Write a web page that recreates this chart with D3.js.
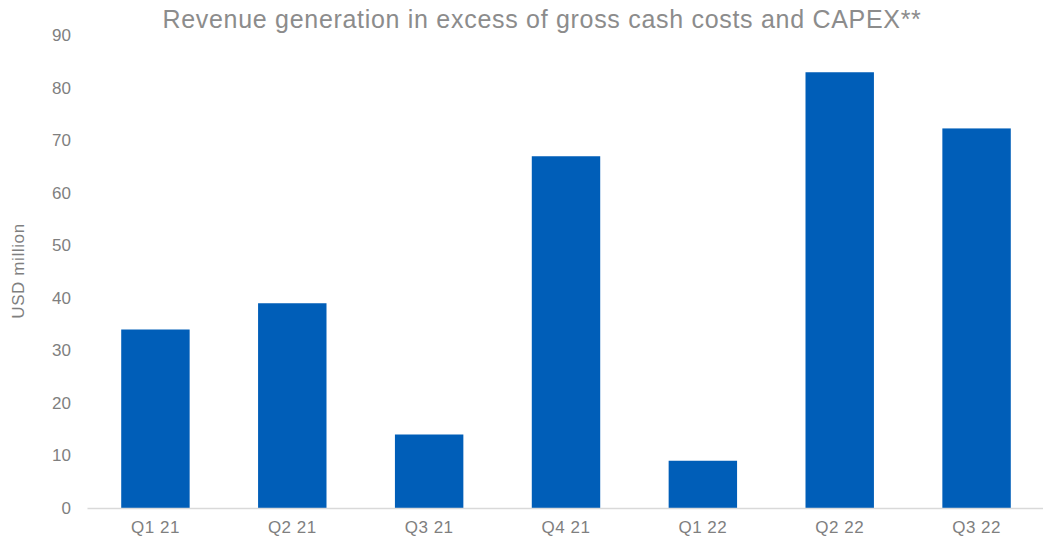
<!DOCTYPE html>
<html>
<head>
<meta charset="utf-8">
<script src="https://cdn.jsdelivr.net/npm/d3@7"></script>
<style>
body { margin: 0; background: #fff; }
text { font-family: "Liberation Sans", Arial, sans-serif; }
</style>
</head>
<body>
<div id="chart"></div>
<script>
var quarters = ['Q1 21', 'Q2 21', 'Q3 21', 'Q4 21', 'Q1 22', 'Q2 22', 'Q3 22'];
var revenue = [34, 39, 14, 67, 9, 83, 72.3];
var yTicks = [0, 10, 20, 30, 40, 50, 60, 70, 80, 90];

var width = 1043, height = 542;
var margin = {top: 35.5, right: -2, bottom: 34, left: 87};

var svg = d3.select('#chart')
    .append('svg')
    .attr('width', width)
    .attr('height', height);

var x = d3.scaleBand()
    .domain(quarters)
    .range([margin.left, width - margin.right])
    .paddingInner(0.5)
    .paddingOuter(0.25);

var y = d3.scaleLinear()
    .domain([0, 90])
    .range([height - margin.bottom, margin.top]);

var gray = '#7f7f7f';

// bars
svg.selectAll('rect.bar')
    .data(revenue)
    .enter()
    .append('rect')
    .attr('class', 'bar')
    .attr('x', function(d, i) { return x(quarters[i]); })
    .attr('y', function(d) { return y(d); })
    .attr('width', x.bandwidth())
    .attr('height', function(d) { return y(0) - y(d); })
    .attr('fill', '#005eb8');

// x axis
var xAxis = svg.append('g')
    .attr('transform', 'translate(0,' + y(0) + ')')
    .call(d3.axisBottom(x).tickSize(0).tickPadding(13));
xAxis.select('.domain').attr('stroke', '#d9d9d9').attr('stroke-width', 1.5);
xAxis.selectAll('text').attr('fill', gray).style('font-size', '17px').style('letter-spacing', '0.5px');

// y axis
var yAxis = svg.append('g')
    .attr('transform', 'translate(' + margin.left + ',0)')
    .call(d3.axisLeft(y).tickValues(yTicks).tickSize(0).tickPadding(16));
yAxis.select('.domain').remove();
yAxis.selectAll('text').attr('fill', gray).style('font-size', '17px');

// y label
svg.append('text')
    .attr('transform', 'translate(24,' + 271 + ') rotate(-90)')
    .attr('text-anchor', 'middle')
    .attr('fill', gray)
    .style('font-size', '17px')
    .style('letter-spacing', '0.6px')
    .text('USD million');

// title
svg.append('text')
    .attr('x', 542)
    .attr('y', 27.5)
    .attr('text-anchor', 'middle')
    .attr('fill', '#8c8c8c')
    .style('font-size', '25px')
    .style('letter-spacing', '0.7px')
    .text('Revenue generation in excess of gross cash costs and CAPEX**');
</script>
</body>
</html>
